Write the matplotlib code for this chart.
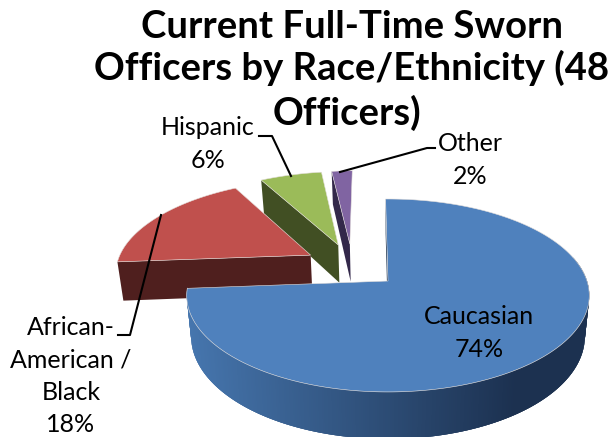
# Exploded 3D style pie of sworn officers by race/ethnicity
import numpy as np
import matplotlib.pyplot as plt
from matplotlib.colors import to_rgb

labels = ['Caucasian', 'African-\nAmerican /\nBlack', 'Hispanic', 'Other']
shares = [74, 18, 6, 2]
top_colors = ['#4f81bd', '#c0504d', '#9bbb59', '#8064a2']
side_colors = ['#1f3550', '#4f1f1e', '#414f23', '#33284a']
title_lines = ['Current Full-Time Sworn', 'Officers by Race/Ethnicity (48', 'Officers)']

plt.rcParams['font.family'] = ['Lato', 'DejaVu Sans']

# pie geometry, in pixels of the figure
cx, cy = 388, 281
rx, ry = 199, 94.3
persp = 0.15
height = 40
shrink = 0.978
explode = 0.25
start_angle = -0.8


def project(x, d, lower=False):
    # x to the right, d towards the viewer, both in pie radii
    s = 1 / (1 - persp * d)
    px = cx + rx * x * s
    py = cy + ry * d * s
    if lower:
        px = cx + (px - cx) * shrink
        py = py + height * s
    return px, py


def slice_outline(a0, a1, ox, od):
    ang = np.radians(np.linspace(a0, a1, max(int(a1 - a0) * 2, 8)))
    xs = np.r_[ox, ox + np.sin(ang)]
    ds = np.r_[od, od - np.cos(ang)]
    return xs, ds


fig = plt.figure(figsize=(6.1, 4.37), dpi=100)
ax = fig.add_axes([0, 0, 1, 1])
ax.set_xlim(0, 610)
ax.set_ylim(437, 0)
ax.axis('off')

# clockwise angles from the top for each slice
sweeps = np.array(shares) / sum(shares) * 360
edges = start_angle + np.r_[0, np.cumsum(sweeps)]
mids = np.radians((edges[:-1] + edges[1:]) / 2)
off_x = explode * (np.sin(mids) - np.sin(mids[0]))
off_d = explode * (-np.cos(mids) + np.cos(mids[0]))

# far slices first, the blue one goes over everything
for i in [3, 2, 1, 0]:
    a0, a1 = edges[i], edges[i + 1]
    xs, ds = slice_outline(a0, a1, off_x[i], off_d[i])

    if i == 0:
        # cut face on the top edge
        tx, ty = project(xs[[0, 1]], ds[[0, 1]])
        bx, by = project(xs[[1, 0]], ds[[1, 0]], lower=True)
        ax.fill(np.r_[tx, bx], np.r_[ty, by], color=side_colors[0], lw=0)
        # outer wall with shading along the rim, drawn from the right so each
        # strip overlaps the one before it
        light = np.array(to_rgb('#4676ae'))
        dark = np.array(to_rgb('#1c3150'))
        for a in np.arange(75, a1 - 0.5, 0.5):
            seg = np.radians([a, a + 1.5])
            sx = off_x[i] + np.sin(seg)
            sd = off_d[i] - np.cos(seg)
            tx, ty = project(sx, sd)
            bx, by = project(sx[::-1], sd[::-1], lower=True)
            t = np.clip((tx[0] - 187) / 330, 0, 1)
            ax.fill(np.r_[tx, bx], np.r_[ty, by], facecolor=light + (dark - light) * t,
                    edgecolor='none')
    else:
        # cut face running from the apex out to the left corner
        sx = np.array([xs[0], xs[1]])
        sd = np.array([ds[0], ds[1]])
        tx, ty = project(sx, sd)
        bx, by = project(sx[::-1], sd[::-1], lower=True)
        ax.fill(np.r_[tx, bx], np.r_[ty, by], color=side_colors[i], lw=0)

    px, py = project(xs, ds)
    ax.fill(px, py, facecolor=top_colors[i], edgecolor='#e4dfdc', lw=0.4)

# leader lines
ax.plot([259, 272, 291], [136, 136, 176], color='black', lw=1.5)
ax.plot([340, 427, 435], [172, 148, 148], color='black', lw=1.5)
ax.plot([161, 130, 118], [215, 335, 335], color='black', lw=1.5)

# slice labels
label_pos = [(479, 333), (71, 376), (208, 144), (470, 160)]
for name, val, (lx, ly) in zip(labels, shares, label_pos):
    ax.text(lx, ly, f'{name}\n{val}%', ha='center', va='center', fontsize=18,
            linespacing=1.5, color='black')

# title lines are set one by one, the gaps between them are not even
for line, ty in zip(title_lines, [27, 68, 113]):
    ax.text(352 if line != 'Officers)' else 347, ty, line, ha='center', va='center',
            fontsize=27.5, fontweight='bold', color='black')

fig.savefig('out.png', dpi=100)
